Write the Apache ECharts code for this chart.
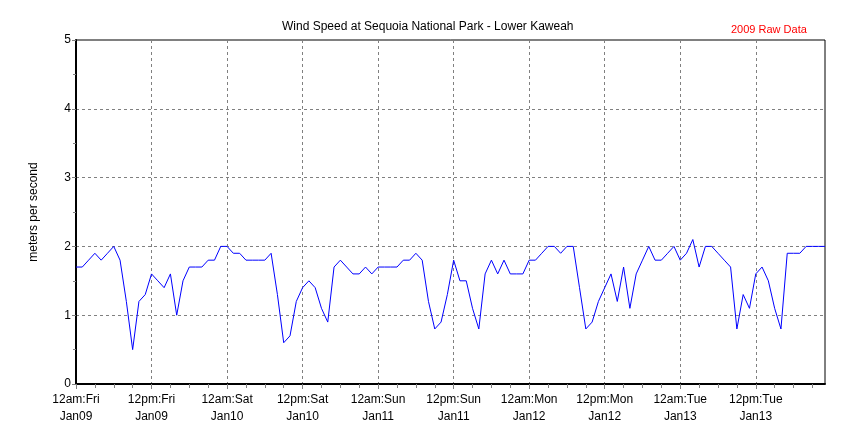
<!DOCTYPE html>
<html>
<head>
<meta charset="utf-8">
<script src="https://cdn.jsdelivr.net/npm/echarts@6/dist/echarts.min.js"></script>
<style>html,body{margin:0;padding:0;background:#fff;}#c{width:850px;height:425px;}</style>
</head>
<body>
<div id="c"></div>
<script>
// Hourly wind speed (m/s), starting 12am Fri Jan09
const windSpeed = [
  1.7,1.7,1.8,1.9,1.8,1.9,2.0,1.8,1.2,0.5,1.2,1.3,1.6,1.5,1.4,1.6,1.0,1.5,1.7,1.7,1.7,1.8,1.8,2.0,2.0,
  1.9,1.9,1.8,1.8,1.8,1.8,1.9,1.3,0.6,0.7,1.2,1.4,1.5,1.4,1.1,0.9,1.7,1.8,1.7,1.6,1.6,1.7,1.6,1.7,
  1.7,1.7,1.7,1.8,1.8,1.9,1.8,1.2,0.8,0.9,1.3,1.8,1.5,1.5,1.1,0.8,1.6,1.8,1.6,1.8,1.6,1.6,1.6,1.8,1.8,
  1.9,2.0,2.0,1.9,2.0,2.0,1.4,0.8,0.9,1.2,1.4,1.6,1.2,1.7,1.1,1.6,1.8,2.0,1.8,1.8,1.9,2.0,1.8,1.9,2.1,
  1.7,2.0,2.0,1.9,1.8,1.7,0.8,1.3,1.1,1.6,1.7,1.5,1.1,0.8,1.9,1.9,1.9,2.0,2.0,2.0,2.0
];
const xTickHours = [0,12,24,36,48,60,72,84,96,108];
const xTickLabels = [
  '12am:Fri\nJan09','12pm:Fri\nJan09','12am:Sat\nJan10','12pm:Sat\nJan10','12am:Sun\nJan11',
  '12pm:Sun\nJan11','12am:Mon\nJan12','12pm:Mon\nJan12','12am:Tue\nJan13','12pm:Tue\nJan13'
];
const yTicks = [0,1,2,3,4,5];

const FONT = "'Liberation Sans', Arial, sans-serif";
const seriesData = windSpeed.map((v, i) => [i, v]);

const chart = echarts.init(document.getElementById('c'), null, {renderer: 'canvas'});
chart.setOption({
  backgroundColor: '#ffffff',
  animation: false,
  title: [
    {text: 'Wind Speed at Sequoia National Park - Lower Kaweah', left: 277, top: 16,
     textStyle: {fontFamily: FONT, fontSize: 12, fontWeight: 'normal', color: '#000'}},
    {text: '2009 Raw Data', left: 726, top: 19,
     textStyle: {fontFamily: FONT, fontSize: 11, fontWeight: 'normal', color: '#ff0000'}}
  ],
  grid: {left: 76, right: 25, top: 40, bottom: 40, show: true, borderColor: '#000', borderWidth: 1, backgroundColor: 'transparent'},
  xAxis: {
    type: 'value', min: 0, max: 119, interval: 12,
    axisLine: {show: true, onZero: false, lineStyle: {color: '#000', width: 2}},
    axisTick: {show: true, length: 5, lineStyle: {color: '#808080'}, customValues: xTickHours},
    minorTick: {show: true, splitNumber: 4, length: 4, lineStyle: {color: '#808080'}},
    axisLabel: {
      customValues: xTickHours,
      formatter: v => { const i = xTickHours.indexOf(v); return i >= 0 ? xTickLabels[i] : ''; },
      fontFamily: FONT, fontSize: 12, color: '#000', lineHeight: 17, margin: 7
    },
    splitLine: {show: true, lineStyle: {color: '#808080', type: [3, 3], width: 1}}
  },
  yAxis: {
    type: 'value', min: 0, max: 5, interval: 1,
    name: 'meters per second', nameLocation: 'middle', nameGap: 36, nameRotate: 90,
    nameTextStyle: {fontFamily: FONT, fontSize: 12, color: '#000'},
    axisLine: {show: true, onZero: false, lineStyle: {color: '#000', width: 2}},
    axisTick: {show: true, length: 4, lineStyle: {color: '#808080'}},
    minorTick: {show: true, splitNumber: 2, length: 3, lineStyle: {color: '#808080'}},
    axisLabel: {formatter: v => String(yTicks[yTicks.indexOf(v)]), fontFamily: FONT, fontSize: 12, color: '#000', margin: 5},
    splitLine: {show: true, lineStyle: {color: '#808080', type: [3, 3], width: 1}}
  },
  series: [{
    type: 'line', data: seriesData, showSymbol: false, symbol: 'none',
    lineStyle: {color: '#0000ff', width: 1}, itemStyle: {color: '#0000ff'}
  }]
});
</script>
</body>
</html>
